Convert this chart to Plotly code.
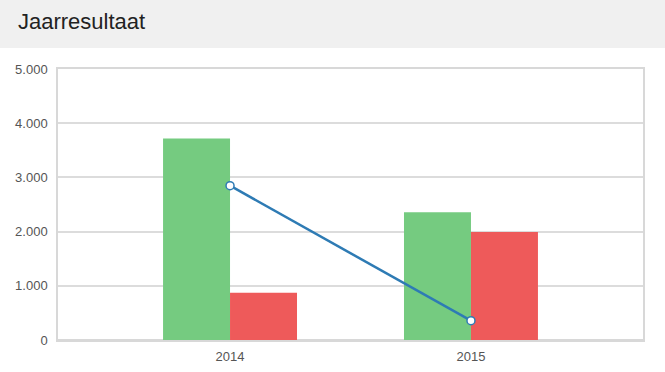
import plotly.graph_objects as go

categories = ["2014", "2015"]
green_values = [3720, 2356]
red_values = [873, 1993]
line_values = [2847, 356]
y_ticks = [0, 1000, 2000, 3000, 4000, 5000]

W, H = 665, 372
L, R, T, B = 58, 22, 69, 32
plot_h = H - T - B
plot_w = W - L - R

fig = go.Figure()
fig.add_trace(go.Bar(x=categories, y=green_values, name="Opbrengsten",
                     marker=dict(color="rgb(117,203,128)", line=dict(width=0))))
fig.add_trace(go.Bar(x=categories, y=red_values, name="Kosten",
                     marker=dict(color="rgb(238,90,90)", line=dict(width=0))))
fig.add_trace(go.Scatter(x=categories, y=line_values, name="Resultaat", mode="lines+markers",
                         line=dict(color="rgb(46,123,180)", width=2.5),
                         marker=dict(size=8, color="white", line=dict(color="rgb(46,123,180)", width=1.5))))

header_bottom = (H - B - 48) / plot_h
header_top = (H - B) / plot_h
fig.add_shape(type="rect", xref="paper", yref="paper",
              x0=-L / plot_w, x1=(plot_w + R) / plot_w, y0=header_bottom, y1=header_top,
              fillcolor="#f0f0f0", line=dict(width=0), layer="below")

fig.update_layout(
    width=W, height=H,
    margin=dict(l=L, r=R, t=T, b=B, autoexpand=False),
    paper_bgcolor="white", plot_bgcolor="white",
    barmode="group", bargap=0.444, bargroupgap=0,
    showlegend=False,
    separators=",.",
    font=dict(family="Liberation Sans, Arial, sans-serif", size=13, color="#555"),
    title=dict(text="Jaarresultaat", x=18 / W, xanchor="left", xref="container",
               y=1 - 21 / H, yanchor="middle", yref="container",
               font=dict(size=22, color="#222", family="Liberation Sans, Arial, sans-serif")),
    xaxis=dict(type="category", range=[-0.714, 1.714], showgrid=False, automargin=False,
               showline=True, linecolor="#d8d8d8", linewidth=1.5, mirror=True,
               ticks="", ticklabelstandoff=4, tickfont=dict(size=13, color="#555")),
    yaxis=dict(range=[0, 5000], tickvals=y_ticks, tickformat=",d", automargin=False,
               showgrid=True, gridcolor="#dcdcdc", gridwidth=1.5,
               zeroline=True, zerolinecolor="#d8d8d8", zerolinewidth=1.5,
               showline=True, linecolor="#d8d8d8", linewidth=1.5, mirror=True,
               ticks="", ticklabelstandoff=6, tickfont=dict(size=13, color="#555")),
)

fig.write_html("out.html", config={"displayModeBar": False},
               post_script="document.body.style.margin='0';document.body.style.overflow='hidden';")
